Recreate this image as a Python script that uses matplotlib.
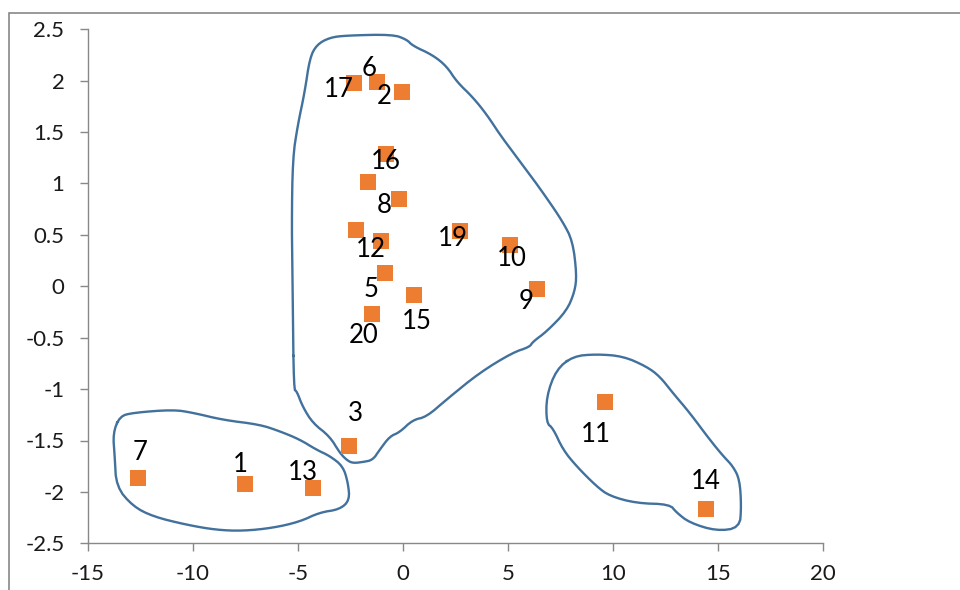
import numpy as np
import matplotlib
matplotlib.use("Agg")
import matplotlib.pyplot as plt
from matplotlib.patches import Rectangle

# ---------------- data ----------------
point_labels = ["1", "2", "3", "", "5", "6", "7", "8", "9", "10",
                "11", "12", "13", "14", "15", "16", "17", "", "19", "20"]
x_vals = [-7.54, -0.03, -2.59, -1.67, -0.87, -1.22, -12.6, -0.20, 6.38, 5.10,
          9.62, -1.06, -4.29, 14.45, 0.52, -0.79, -2.33, -2.22, 2.73, -1.50]
y_vals = [-1.92, 1.89, -1.556, 1.01, 0.13, 1.99, -1.86, 0.85, -0.03, 0.40,
          -1.125, 0.44, -1.96, -2.17, -0.08, 1.29, 1.98, 0.55, 0.535, -0.27]

# hand-drawn cluster outlines (data units)
blob_main_x = [-5.20, -5.25, -5.30, -5.25, -5.01, -4.68, -4.44, -4.11, -3.49, -2.68,
               -0.49, 0.18, 0.46, 1.41, 2.08, 2.56, 3.32, 3.99, 4.60, 5.22,
               6.03, 6.84, 7.60, 8.08, 8.27, 8.18, 7.79, 6.84, 6.18, 6.03,
               5.22, 3.65, 2.08, 1.12, 0.46, -0.16, -0.63, -1.11, -1.44, -1.92,
               -2.40, -2.68, -3.01, -3.49, -4.30, -4.78, -5.06]
blob_main_y = [-1.005, -0.13, 0.60, 1.25, 1.57, 1.89, 2.22, 2.35, 2.42, 2.44,
               2.45, 2.40, 2.34, 2.25, 2.14, 1.99, 1.84, 1.67, 1.48, 1.31,
               1.09, 0.86, 0.63, 0.44, 0.115, -0.05, -0.24, -0.44, -0.54, -0.59,
               -0.645, -0.84, -1.10, -1.27, -1.30, -1.42, -1.46, -1.59, -1.69, -1.71,
               -1.72, -1.69, -1.62, -1.46, -1.33, -1.17, -1.02]

blob_left_x = [-13.49, -13.81, -13.73, -13.65, -12.86, -11.90, -10.31, -8.89, -7.62, -6.19,
               -4.92, -3.97, -3.01, -2.54, -2.62, -2.86, -3.49, -4.12, -4.92, -5.87,
               -6.82, -8.57, -10.0, -10.95, -12.86]
blob_left_y = [-1.265, -1.43, -1.65, -1.95, -2.14, -2.24, -2.32, -2.37, -2.38, -2.35,
               -2.29, -2.20, -2.17, -2.08, -1.91, -1.75, -1.65, -1.59, -1.49, -1.41,
               -1.345, -1.30, -1.23, -1.20, -1.23]

blob_right_x = [8.10, 7.30, 6.83, 6.83, 7.14, 7.62, 8.26, 9.21, 9.84, 11.11,
                12.70, 13.02, 13.65, 14.92, 16.03, 16.11, 16.03, 15.71, 15.24, 14.60,
                13.65, 12.86, 12.22, 11.59, 10.48, 9.21]
blob_right_y = [-0.68, -0.81, -1.07, -1.33, -1.38, -1.59, -1.75, -1.945, -2.04, -2.11,
                -2.12, -2.20, -2.30, -2.38, -2.35, -2.14, -1.88, -1.75, -1.65, -1.49,
                -1.23, -1.04, -0.875, -0.78, -0.68, -0.66]

x_ticks = [-15, -10, -5, 0, 5, 10, 15, 20]
y_ticks = [-2.5, -2, -1.5, -1, -0.5, 0, 0.5, 1, 1.5, 2, 2.5]

# ---------------- layout / style ----------------
# label offsets in pixels (dx right, dy down) relative to the marker
label_offsets_px = {
    "1": (-4, -19), "2": (-18, 4), "3": (7, -33), "5": (-14, 17), "6": (-8, -13),
    "7": (2, -25), "8": (-15, 7), "9": (-11, 12), "10": (2, 13), "11": (-9, 33),
    "12": (-10, 8), "13": (-10, -15), "14": (-1, -28), "15": (3, 27), "16": (-1, 8),
    "17": (-15, 7), "19": (-7, 7), "20": (-8, 21),
}

ORANGE = "#ED7D31"
BLUE = "#41719C"
GRAY = "#888888"

plt.rcParams['font.family'] = ['Lato', 'DejaVu Sans']

fig = plt.figure(figsize=(9.6, 5.9), dpi=100)
ax = fig.add_axes([88 / 960, 1 - 543.3 / 590, (823 - 88) / 960, (543.3 - 29.3) / 590])


def chaikin(xs, ys, n=2):
    pts = np.column_stack([xs, ys])
    for _ in range(n):
        q = 0.75 * pts + 0.25 * np.roll(pts, -1, axis=0)
        r = 0.25 * pts + 0.75 * np.roll(pts, -1, axis=0)
        pts = np.empty((2 * len(q), 2))
        pts[0::2] = q
        pts[1::2] = r
    pts = np.vstack([pts, pts[:1]])
    return pts[:, 0], pts[:, 1]


for bx, by in [(blob_main_x, blob_main_y), (blob_left_x, blob_left_y),
               (blob_right_x, blob_right_y)]:
    sx, sy = chaikin(bx, by, 2)
    ax.plot(sx, sy, color=BLUE, lw=1.7, solid_joinstyle='round', zorder=2)

ax.scatter(x_vals, y_vals, marker='s', s=11.3 ** 2, color=ORANGE,
           linewidths=0, zorder=3)

for lab, xv, yv in zip(point_labels, x_vals, y_vals):
    if not lab:
        continue
    dx, dy = label_offsets_px[lab]
    ax.annotate(lab, (xv, yv), xytext=(dx * 0.72, -dy * 0.72),
                textcoords='offset points', ha='center', va='center',
                fontsize=18.5, color='#000000', zorder=4)

ax.set_xlim(-15, 20)
ax.set_ylim(-2.5, 2.5)
ax.set_xticks(x_ticks)
ax.set_yticks(y_ticks)
ax.set_xticklabels([f"{t:g}" for t in x_ticks])
ax.set_yticklabels([f"{t:g}" for t in y_ticks])

for side in ['top', 'right']:
    ax.spines[side].set_visible(False)
for side in ['left', 'bottom']:
    ax.spines[side].set_color(GRAY)
    ax.spines[side].set_linewidth(1.0)

ax.tick_params(axis='both', direction='out', length=6, width=1.0, color=GRAY,
               labelsize=16, labelcolor='#1a1a1a')
ax.tick_params(axis='y', pad=11)
ax.tick_params(axis='x', pad=9)

# outer chart-area border (cut off at right and bottom)
fig.add_artist(Rectangle((9.3 / 960, -0.1), 1.2, (1 - 13.3 / 590) + 0.1,
                         transform=fig.transFigure, fill=False,
                         edgecolor=GRAY, lw=1.2, clip_on=False))

fig.savefig("out.png", dpi=100)
